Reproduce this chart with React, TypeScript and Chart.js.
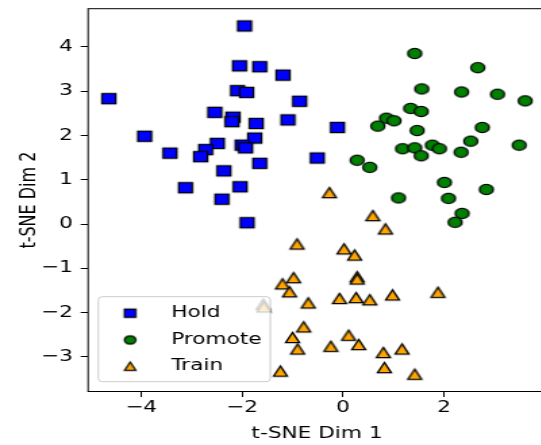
import React, { useEffect, useRef } from 'react';
import { Chart, registerables } from 'chart.js';

Chart.register(...registerables);

// ---- data ----
const seriesNames = ['Hold', 'Promote', 'Train'];
const seriesColors = ['#0000ff', '#008000', '#ffa500'];

const holdX = [-1.95, -2.05, -1.65, -1.19, -4.64, -2.09, -1.91, -0.86, -2.54, -2.18, -2.2, -1.72, -1.09, -3.93, -1.75, -2.49, -2.72, -2.82, -2.0, -1.93, -3.43, -1.65, -2.36, -3.12, -2.04, -2.4, -1.9, -0.11, -0.51];
const holdY = [4.47, 3.57, 3.55, 3.36, 2.83, 3.01, 2.97, 2.77, 2.52, 2.41, 2.31, 2.27, 2.35, 1.98, 1.94, 1.82, 1.68, 1.52, 1.78, 1.72, 1.6, 1.37, 1.2, 0.82, 0.84, 0.56, 0.03, 2.18, 1.49];

const promoteX = [1.42, 2.67, 1.56, 2.35, 3.06, 3.61, 1.34, 1.55, 0.86, 1.01, 0.69, 2.76, 1.47, 2.53, 1.18, 1.42, 1.77, 1.91, 1.55, 2.34, 3.49, 0.28, 0.53, 2.01, 2.84, 1.1, 2.09, 2.36, 2.22];
const promoteY = [3.85, 3.53, 3.05, 2.98, 2.93, 2.78, 2.61, 2.54, 2.39, 2.33, 2.21, 2.18, 2.11, 1.87, 1.7, 1.72, 1.78, 1.7, 1.54, 1.62, 1.78, 1.44, 1.28, 0.94, 0.78, 0.59, 0.58, 0.24, 0.04];

const trainX = [-0.91, -0.98, -1.2, -1.06, -0.69, -1.58, -1.57, -0.78, -1.0, -0.9, -1.24, 0.59, 0.84, 0.02, 0.23, 0.28, 0.28, -0.07, 0.26, 0.53, 0.98, 1.88, 0.11, 0.31, -0.24, 0.8, 1.17, 0.82, 1.42, -0.27];
const trainY = [-0.45, -1.21, -1.35, -1.53, -1.78, -1.81, -1.87, -2.32, -2.56, -2.82, -3.32, 0.19, -0.11, -0.56, -0.7, -1.19, -1.24, -1.68, -1.66, -1.71, -1.6, -1.54, -2.51, -2.72, -2.76, -2.9, -2.82, -3.24, -3.39, 0.71];

const xTicks = [-4, -2, 0, 2];
const yTicks = [-3, -2, -1, 0, 1, 2, 3, 4];
const xRange = [-5.05, 4.02];
const yRange = [-3.78, 4.86];
const xAxisLabel = 't-SNE Dim 1';
const yAxisLabel = 't-SNE Dim 2';

// ---- layout (internal canvas units; canvas is stretched horizontally) ----
const STRETCH = 1.35;
const CW = 410;
const CH = 445;
const FONT = 'DejaVu Sans';

function fmt(v: number): string {
  return String(v).replace('-', '\u2212');
}

function makeMarker(shape: string, fill: string, size: number, lw: number): HTMLCanvasElement {
  const c = document.createElement('canvas');
  const S = Math.ceil(size) + 4;
  c.width = S;
  c.height = S;
  const ctx = c.getContext('2d') as CanvasRenderingContext2D;
  const h = size / 2;
  const cx = S / 2;
  const cy = S / 2;
  ctx.fillStyle = fill;
  ctx.strokeStyle = '#000';
  ctx.lineWidth = lw;
  ctx.lineJoin = 'miter';
  ctx.beginPath();
  if (shape === 'square') {
    ctx.rect(cx - h, cy - h, size, size);
  } else if (shape === 'circle') {
    ctx.arc(cx, cy, h, 0, Math.PI * 2);
  } else {
    ctx.moveTo(cx, cy - h);
    ctx.lineTo(cx + h, cy + h);
    ctx.lineTo(cx - h, cy + h);
    ctx.closePath();
  }
  ctx.fill();
  ctx.stroke();
  return c;
}

export default function App() {
  const ref = useRef<HTMLCanvasElement | null>(null);

  useEffect(() => {
    const canvas = ref.current;
    if (!canvas) return;
    const shapes = ['square', 'circle', 'triangle'];
    const markers = shapes.map((s, i) => makeMarker(s, seriesColors[i], 10.2, 1.3));
    const legendMarkers = shapes.map((s, i) => makeMarker(s, seriesColors[i], 8.4, 1.2));

    const xs = [holdX, promoteX, trainX];
    const ys = [holdY, promoteY, trainY];

    const framePlugin = {
      id: 'frame',
      afterDatasetsDraw(chart: any) {
        const { ctx, chartArea } = chart;
        ctx.save();
        ctx.strokeStyle = '#000';
        ctx.lineWidth = 1;
        ctx.strokeRect(chartArea.left, chartArea.top, chartArea.right - chartArea.left, chartArea.bottom - chartArea.top);
        ctx.restore();
      },
    };

    const legendPlugin = {
      id: 'mplLegend',
      afterDraw(chart: any) {
        const { ctx, chartArea } = chart;
        const bx = chartArea.left + 7.6;
        const bw = 127.2;
        const bh = 85;
        const by = chartArea.bottom - 9.8 - bh;
        ctx.save();
        ctx.beginPath();
        if ((ctx as any).roundRect) (ctx as any).roundRect(bx, by, bw, bh, 3);
        else ctx.rect(bx, by, bw, bh);
        ctx.fillStyle = 'rgba(255,255,255,0.8)';
        ctx.fill();
        ctx.strokeStyle = '#cccccc';
        ctx.lineWidth = 1;
        ctx.stroke();
        const rows = [16.5, 43.3, 69.5];
        ctx.font = `16px "${FONT}"`;
        ctx.fillStyle = '#000';
        ctx.textBaseline = 'middle';
        ctx.textAlign = 'left';
        seriesNames.forEach((name, i) => {
          const m = legendMarkers[i];
          const my = by + rows[i];
          ctx.drawImage(m, bx + 23.5 - m.width / 2, my - m.height / 2);
          ctx.fillText(name, bx + 53.9, my);
        });
        ctx.restore();
      },
    };

    const chart = new Chart(canvas, {
      type: 'scatter',
      data: {
        datasets: seriesNames.map((name, i) => ({
          label: name,
          data: xs[i].map((x, j) => ({ x, y: ys[i][j] })),
          pointStyle: markers[i] as any,
          pointRadius: 5,
          pointHoverRadius: 5,
          backgroundColor: seriesColors[i],
          borderColor: '#000',
          order: 3 - i,
        })),
      },
      options: {
        responsive: false,
        animation: false,
        devicePixelRatio: 1,
        events: [],
        layout: { padding: { left: 0, top: 8.7, right: CW - 404.2, bottom: 0 } },
        plugins: {
          legend: { display: false },
          tooltip: { enabled: false },
        },
        scales: {
          x: {
            type: 'linear',
            min: xRange[0],
            max: xRange[1],
            afterBuildTicks: (scale: any) => {
              scale.ticks = xTicks.map((v) => ({ value: v }));
            },
            afterFit: (scale: any) => {
              scale.height = CH - 391.5;
              scale.paddingLeft = 0;
              scale.paddingRight = 0;
            },
            border: { display: false },
            grid: { display: true, drawOnChartArea: false, drawTicks: true, tickLength: 5.5, color: '#000', lineWidth: 1 },
            ticks: {
              autoSkip: false,
              maxRotation: 0,
              padding: 1,
              color: '#000',
              font: { family: FONT, size: 16 },
              callback: (v: any) => fmt(Number(v)),
            },
            title: {
              display: true,
              text: xAxisLabel,
              color: '#000',
              font: { family: FONT, size: 16 },
              padding: { top: 0, bottom: 1.5 },
            },
          },
          y: {
            type: 'linear',
            min: yRange[0],
            max: yRange[1],
            afterBuildTicks: (scale: any) => {
              scale.ticks = yTicks.map((v) => ({ value: v }));
            },
            afterFit: (scale: any) => {
              scale.width = 65.2;
              scale.paddingTop = 0;
              scale.paddingBottom = 0;
            },
            border: { display: false },
            grid: { display: true, drawOnChartArea: false, drawTicks: true, tickLength: 5.5, color: '#000', lineWidth: 1 },
            ticks: {
              autoSkip: false,
              padding: 5.8,
              color: '#000',
              font: { family: FONT, size: 16 },
              callback: (v: any) => fmt(Number(v)),
            },
            title: {
              display: true,
              text: yAxisLabel,
              color: '#000',
              font: { family: FONT, size: 16 },
              padding: { top: 12, bottom: 0 },
            },
          },
        },
      },
      plugins: [framePlugin, legendPlugin],
    });

    return () => {
      chart.destroy();
    };
  }, []);

  return (
    <div style={{ position: 'fixed', left: 0, top: 0, width: 541, height: 445, overflow: 'hidden', background: '#fff' }}>
      <canvas
        ref={ref}
        width={CW}
        height={CH}
        style={{ display: 'block', width: `${CW * STRETCH}px`, height: `${CH}px` }}
      />
    </div>
  );
}
